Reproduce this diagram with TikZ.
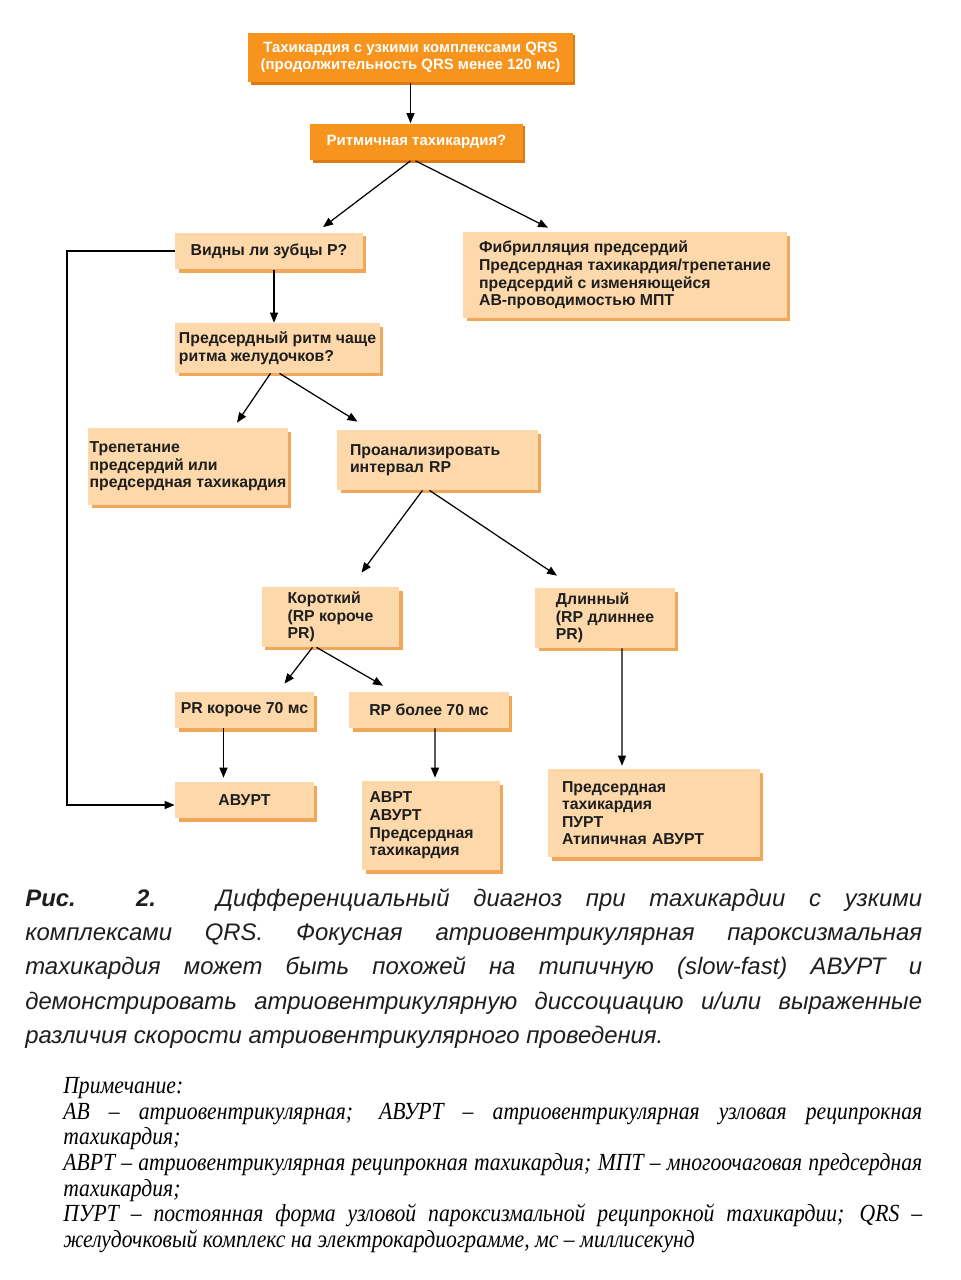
\documentclass[tikz,border=0pt]{standalone}
\usepackage{fontspec}
\setmainfont{Liberation Sans}
\newfontfamily\capfont{Liberation Sans}
\newfontfamily\notefont[FakeStretch=0.88]{Liberation Serif}
\usetikzlibrary{arrows.meta, calc, shadows}
\setlength{\parindent}{0pt}
\definecolor{orangec}{RGB}{247,148,29}
\definecolor{orangesh}{RGB}{222,122,18}
\definecolor{peachc}{RGB}{253,216,170}
\definecolor{peachsh}{RGB}{240,168,88}
\definecolor{textc}{RGB}{30,30,30}
\tikzset{
  mainbox/.style={fill=orangec, text=white, inner sep=0pt, align=center,
    font=\fontsize{8.5}{9.6}\selectfont\bfseries,
    drop shadow={shadow xshift=0.5mm, shadow yshift=-0.5mm, fill=orangesh, opacity=1}},
  stepbox/.style={fill=peachc, text=textc, inner sep=0pt, align=left,
    font=\fontsize{9}{10}\selectfont\bfseries,
    drop shadow={shadow xshift=0.7mm, shadow yshift=-0.7mm, fill=peachsh, opacity=1}},
  arr/.style={-{Triangle[length=2mm, width=1.6mm]}, line width=0.7pt, black},
}

\begin{document}
\begin{tikzpicture}[x=0.02cm, y=-0.02cm]
  \fill[white] (0,0) rectangle (960,1280);
  % top of the tree
  \node[mainbox, minimum width=65mm, minimum height=10mm] (top) at (410.5,57.5)
    {Тахикардия с узкими комплексами QRS\\(продолжительность QRS менее 120 мс)};
  \node[mainbox, minimum width=42.6mm, minimum height=7.4mm] (ritm) at (416.5,142)
    {Ритмичная тахикардия?};
  \node[stepbox, minimum width=37.6mm, minimum height=7.4mm] (vidny) at (269,251)
    {Видны ли зубцы P?};
  \node[stepbox, minimum width=64.8mm, minimum height=17.2mm] (fib) at (625,275)
    {Фибрилляция предсердий\\Предсердная тахикардия/трепетание\\предсердий с изменяющейся\\АВ-проводимостью МПТ};
  \node[stepbox, minimum width=41mm, minimum height=10mm] (pred) at (277.5,348)
    {Предсердный ритм чаще\\ритма желудочков?};
  \node[stepbox, minimum width=40mm, minimum height=15.4mm] (trep) at (188,466.5)
    {Трепетание\\предсердий или\\предсердная тахикардия};
  \node[stepbox, text width=35mm, inner xsep=2.6mm, minimum height=12mm] (proan) at (437.5,460)
    {Проанализировать\\интервал RP};
  % RP interval
  \node[stepbox, minimum width=27.6mm, minimum height=12mm] (short) at (330.5,617)
    {Короткий\\(RP короче\\PR)};
  \node[stepbox, minimum width=28mm, minimum height=12mm] (long) at (605,618)
    {Длинный\\(RP длиннее\\PR)};
  \node[stepbox, minimum width=27.8mm, minimum height=7.2mm] (pr70) at (244.5,710)
    {PR короче 70 мс};
  \node[stepbox, minimum width=32mm, minimum height=7.2mm] (rp70) at (429,710)
    {RP более 70 мс};
  \node[stepbox, minimum width=27.8mm, minimum height=7.2mm] (avurt) at (244.5,800)
    {АВУРТ};
  \node[stepbox, text width=24.6mm, inner xsep=1.5mm, minimum height=17.8mm] (avrt) at (431,825.5)
    {АВРТ\\АВУРТ\\Предсердная\\тахикардия};
  \node[stepbox, text width=36.8mm, inner xsep=2.8mm, minimum height=17.6mm] (preds) at (654,813)
    {Предсердная\\тахикардия\\ПУРТ\\Атипичная АВУРТ};
  \coordinate (loop) at (67,251);

  \draw[arr] (top.south) -- (top.south |- ritm.north);
  \draw[arr] ($(ritm.south)+(-6,0)$) -- ($(vidny.north)+(54,-5)$);
  \draw[arr] ($(ritm.south)+(-1,0)$) -- ($(fib.north)+(-77,-4)$);
  \draw[arr] ($(vidny.south)+(5,0)$) -- ($(pred.north)+(-3.5,0)$);
  \draw[arr] ($(pred.south)+(-7,0)$) -- ($(trep.north)+(49,-5)$);
  \draw[arr] ($(pred.south)+(2,0)$) -- ($(proan.north)+(-80,-8)$);
  \draw[arr] ($(proan.south)+(-15,0)$) -- ($(short.north)+(31,-14)$);
  \draw[arr] ($(proan.south)+(-8,0)$) -- ($(long.north)+(-48,-12)$);
  \draw[arr] ($(short.south)+(-18,0)$) -- ($(pr70.north)+(40,-8)$);
  \draw[arr] ($(short.south)+(-14,0)$) -- ($(rp70.north)+(-46,-6)$);
  \draw[arr] ([xshift=-4.2mm]pr70.south) -- ([xshift=-4.2mm, yshift=0.8mm]avurt.north);
  \draw[arr] ([xshift=1.2mm]rp70.south) -- ([xshift=0.8mm, yshift=0.6mm]avrt.north);
  \draw[arr] ([xshift=3.4mm]long.south) -- ([xshift=-6.4mm, yshift=0.6mm]preds.north);
  \draw[arr] (vidny.west) -- (loop) |- ([yshift=-1mm]avurt.west);

  % caption and note
  \node[anchor=north west, text width=179.4mm, align=justify, inner sep=0pt, text=textc,
    font=\capfont\fontsize{13.6}{19.6}\selectfont\itshape] (caption) at (25,888)
    {\textbf{Рис. 2.} Дифференциальный диагноз при тахикардии с узкими\linebreak
     комплексами QRS. Фокусная атриовентрикулярная пароксизмальная\linebreak
     тахикардия может быть похожей на типичную (slow-fast) АВУРТ и\linebreak
     демонстрировать атриовентрикулярную диссоциацию и/или выраженные\linebreak
     различия скорости атриовентрикулярного проведения.};
  \node[anchor=north west, text width=171.8mm, align=justify, inner sep=0pt,
    font=\notefont\fontsize{14}{14.6}\selectfont\itshape] (note) at (63,1077)
    {Примечание:\par
     АВ – атриовентрикулярная; АВУРТ – атриовентрикулярная узловая реципрокная\linebreak
     тахикардия;\par
     АВРТ – атриовентрикулярная реципрокная тахикардия; МПТ – многоочаговая предсердная\linebreak
     тахикардия;\par
     ПУРТ – постоянная форма узловой пароксизмальной реципрокной тахикардии; QRS –\linebreak
     желудочковый комплекс на электрокардиограмме, мс – миллисекунд};
\end{tikzpicture}
\end{document}
